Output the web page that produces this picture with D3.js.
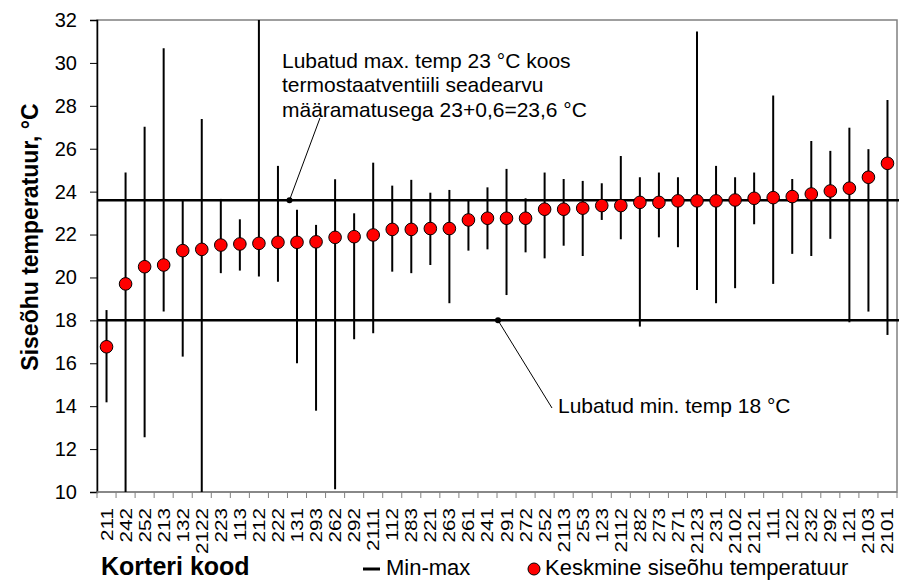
<!DOCTYPE html>
<html>
<head>
<meta charset="utf-8">
<script src="https://cdn.jsdelivr.net/npm/d3@7"></script>
<style>
  body { margin: 0; background: #fff; }
  svg { font-family: "Liberation Sans", Arial, sans-serif; }
</style>
</head>
<body>
<div id="canvas"></div>
<script>
// --- data
var codes = ['211','242','252','213','132','2122','223','113','212','222','131','293','262','292','2111',
  '112','283','221','263','261','241','291','272','252','2113','253','123','2112','282','273','271',
  '2123','231','2102','2121','111','122','232','292','121','2103','2101'];
var means = [16.77,19.70,20.50,20.58,21.25,21.31,21.51,21.56,21.59,21.64,21.64,21.66,21.87,21.90,21.98,
  22.24,22.24,22.28,22.28,22.68,22.76,22.76,22.76,23.18,23.18,23.23,23.35,23.35,23.50,23.50,23.57,
  23.57,23.57,23.61,23.69,23.72,23.77,23.89,24.03,24.16,24.67,25.32];
var maxs = [18.48,24.89,27.03,30.68,23.57,27.39,23.66,22.71,32.0,25.20,23.15,22.45,24.58,22.99,25.35,
  24.28,24.55,23.95,24.08,23.64,24.20,25.06,23.69,24.89,24.59,24.50,24.39,25.66,24.67,24.89,24.67,
  31.46,25.20,24.67,24.89,28.48,24.59,26.36,25.90,26.98,25.98,28.27];
var mins = [14.18,10.0,12.55,18.41,16.31,10.0,20.20,20.32,20.04,19.80,16.00,13.79,10.13,17.12,17.40,
  20.27,20.20,20.58,18.80,21.25,21.31,19.18,21.17,20.89,21.48,21.00,22.68,21.78,17.71,21.87,21.41,
  19.42,18.80,19.50,22.48,19.70,21.10,21.00,21.80,17.91,18.41,17.32];
var yTicks = [10,12,14,16,18,20,22,24,26,28,30,32];
var limitMax = 23.6, limitMin = 18;

var W = 901, H = 580;
var M = {top:20, right:4, bottom:88, left:97};
var w = W - M.left - M.right,
    h = H - M.top - M.bottom;

var svg = d3.select('#canvas').append('svg')
  .attr('width', W).attr('height', H);

var plot = svg.append('g')
  .attr('transform', 'translate(' + M.left + ',' + M.top + ')');

var idx = d3.range(codes.length);
var x = d3.scaleBand().domain(idx).range([0, w]);
var y = d3.scaleLinear().domain([10, 32]).range([h, 0]);

// frame
plot.append('rect')
  .attr('width', w).attr('height', h)
  .style('fill', 'none').style('stroke', '#808080').style('stroke-width', 1.5);

// y axis
var yAxis = plot.append('g')
  .call(d3.axisLeft(y).tickValues(yTicks).tickSize(7).tickPadding(13));
yAxis.select('.domain').style('stroke', '#000').style('stroke-width', 1.5);
yAxis.selectAll('.tick line').style('stroke', '#000');
yAxis.selectAll('text').style('font-size', '20px').style('fill', '#000');

// x axis: ticks at the category borders, labels rotated
var xAxis = plot.append('g').attr('transform', 'translate(0,' + h + ')');
xAxis.append('line').attr('x1', 0).attr('x2', w)
  .style('stroke', '#808080').style('stroke-width', 1.5);
xAxis.selectAll('.tk').data(d3.range(codes.length + 1)).enter().append('line')
  .attr('x1', function(d) { return d * x.step(); })
  .attr('x2', function(d) { return d * x.step(); })
  .attr('y1', 0).attr('y2', 6)
  .style('stroke', '#808080');
xAxis.selectAll('.lbl').data(idx).enter().append('text')
  .attr('transform', function(d) {
    return 'translate(' + (x(d) + x.bandwidth() / 2 + 6) + ',16) rotate(-90) scale(1.27,1)';
  })
  .attr('text-anchor', 'end')
  .style('font-size', '16.3px')
  .text(function(d) { return codes[d]; });

// limit lines
plot.selectAll('.limit').data([limitMax, limitMin]).enter().append('line')
  .attr('x1', 0).attr('x2', w + 2)
  .attr('y1', function(d) { return y(d); })
  .attr('y2', function(d) { return y(d); })
  .style('stroke', '#000').style('stroke-width', 2.5);

// min-max whiskers
plot.selectAll('.wh').data(idx).enter().append('line')
  .attr('x1', function(d) { return x(d) + x.bandwidth() / 2; })
  .attr('x2', function(d) { return x(d) + x.bandwidth() / 2; })
  .attr('y1', function(d) { return y(Math.min(maxs[d], 32)); })
  .attr('y2', function(d) { return y(Math.max(mins[d], 10)); })
  .style('stroke', '#000').style('stroke-width', 2);

// means
plot.selectAll('.pt').data(idx).enter().append('circle')
  .attr('cx', function(d) { return x(d) + x.bandwidth() / 2; })
  .attr('cy', function(d) { return y(means[d]); })
  .attr('r', 6.3)
  .style('fill', '#ff0000').style('stroke', '#000').style('stroke-width', 1);

// annotations
function note(px, py, tx, ty, lines, ax, ay) {
  plot.append('line')
    .attr('x1', px).attr('y1', py).attr('x2', tx).attr('y2', ty)
    .style('stroke', '#000').style('stroke-width', 1);
  plot.append('circle').attr('cx', px).attr('cy', py).attr('r', 3).style('fill', '#000');
  var t = plot.append('text').style('font-size', '21px');
  lines.forEach(function(s, i) {
    t.append('tspan').attr('x', ax).attr('y', ay + i * 24.5).text(s);
  });
}
note(x(10) + 2, y(limitMax), 223, 98,
  ['Lubatud max. temp 23 °C koos', 'termostaatventiili seadearvu', 'määramatusega 23+0,6=23,6 °C'],
  185, 47.5);
note(x(21) + 1, y(limitMin), 455, 388, ['Lubatud min. temp 18 °C'], 461, 393);

// y title
svg.append('text')
  .attr('transform', 'translate(38,237) rotate(-90)')
  .attr('text-anchor', 'middle')
  .style('font-size', '23px').style('font-weight', 'bold')
  .text('Siseõhu temperatuur, °C');

// x title
svg.append('text')
  .attr('x', 101).attr('y', 575)
  .style('font-size', '25px').style('font-weight', 'bold')
  .text('Korteri kood');

// legend
svg.append('line').attr('x1', 363).attr('x2', 380).attr('y1', 569).attr('y2', 569)
  .style('stroke', '#000').style('stroke-width', 3);
svg.append('text').attr('x', 386).attr('y', 575).style('font-size', '22px').text('Min-max');
svg.append('circle').attr('cx', 534).attr('cy', 569).attr('r', 6)
  .style('fill', '#ff0000').style('stroke', '#000').style('stroke-width', 1);
svg.append('text').attr('x', 545).attr('y', 575).style('font-size', '22px').text('Keskmine siseõhu temperatuur');
</script>
</body>
</html>
